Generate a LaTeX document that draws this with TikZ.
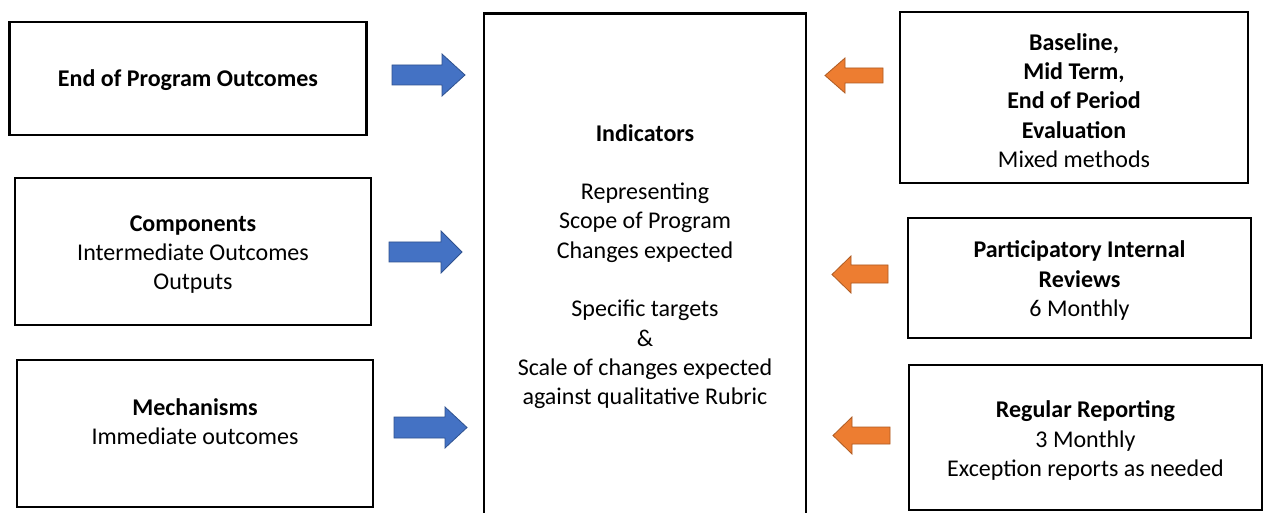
\documentclass[tikz,border=0pt]{standalone}
\usepackage{fontspec}
\setmainfont{Carlito}
\definecolor{arrblue}{HTML}{4472C4}
\definecolor{arrblueedge}{HTML}{2F528F}
\definecolor{arrorange}{HTML}{ED7D31}
\definecolor{arrorangeedge}{HTML}{AE5A21}
\tikzset{
  box/.style={draw=black, line width=2.8pt, rectangle, inner sep=0pt, align=center,
    font=\fontsize{24}{29.3}\selectfont},
  txt/.style={align=center, inner sep=0pt, font=\fontsize{24}{29.3}\selectfont},
  bluearr/.style={fill=arrblue, draw=arrblueedge, line width=0.8pt, line join=miter},
  orangearr/.style={fill=arrorange, draw=arrorangeedge, line width=0.8pt, line join=miter}
}
\begin{document}
\begin{tikzpicture}[x=1pt, y=-1pt]
\useasboundingbox[fill=white] (0,0) rectangle (1264,513);
% left boxes
\node[box, minimum width=357pt, minimum height=113pt] (epo) at (188,78.5) {};
\node[txt] (epot) at (188,80.5) {\textbf{End of Program Outcomes}};
\node[box, minimum width=356pt, minimum height=147pt] (comp) at (193,251.5) {};
\node[txt] (compt) at (193,254.5) {\textbf{Components}\\Intermediate Outcomes\\Outputs};
\node[box, minimum width=356pt, minimum height=147pt] (mech) at (195,433.5) {};
\node[txt] (mecht) at (195,421.5) {\textbf{Mechanisms}\\Immediate outcomes};
% central box
\node[box, minimum width=322pt, minimum height=530pt, anchor=north] (ind) at (645,12) {};
\node[txt] (indt) at (645,266.5) {\textbf{Indicators}\\[29.3pt]Representing\\Scope of Program\\Changes expected\\[29.3pt]Specific targets\\\&\\Scale of changes expected\\against qualitative Rubric};
% right boxes
\node[box, minimum width=348pt, minimum height=171pt] (eval) at (1074,97.5) {};
\node[txt] (evalt) at (1074,100.5) {\textbf{Baseline,}\\\textbf{Mid Term,}\\\textbf{End of Period}\\\textbf{Evaluation}\\Mixed methods};
\node[box, minimum width=343pt, minimum height=120pt] (rev) at (1079.5,278) {};
\node[txt] (revt) at (1079.5,280.5) {\textbf{Participatory Internal}\\\textbf{Reviews}\\6 Monthly};
\node[box, minimum width=353pt, minimum height=145pt] (rep) at (1085.5,437.5) {};
\node[txt] (rept) at (1085.5,440.5) {\textbf{Regular Reporting}\\3 Monthly\\Exception reports as needed};
% blue block arrows (left boxes -> indicators)
\draw[bluearr] (392,65) -- (442,65) -- (442,54) -- (465,75) -- (442,96) -- (442,85) -- (392,85) -- cycle;
\draw[bluearr] (389,242) -- (441,242) -- (441,231) -- (462,252) -- (441,273) -- (441,262) -- (389,262) -- cycle;
\draw[bluearr] (394,417) -- (445,417) -- (445,407) -- (467,427.5) -- (445,448) -- (445,438) -- (394,438) -- cycle;
% orange block arrows (right boxes -> indicators)
\draw[orangearr] (883,68) -- (845,68) -- (845,58) -- (825,75.5) -- (845,93) -- (845,83) -- (883,83) -- cycle;
\draw[orangearr] (888,265) -- (851,265) -- (851,256) -- (832,274.5) -- (851,293) -- (851,283) -- (888,283) -- cycle;
\draw[orangearr] (890,427) -- (852,427) -- (852,417) -- (833,435.5) -- (852,454) -- (852,444) -- (890,444) -- cycle;
\end{tikzpicture}
\end{document}
